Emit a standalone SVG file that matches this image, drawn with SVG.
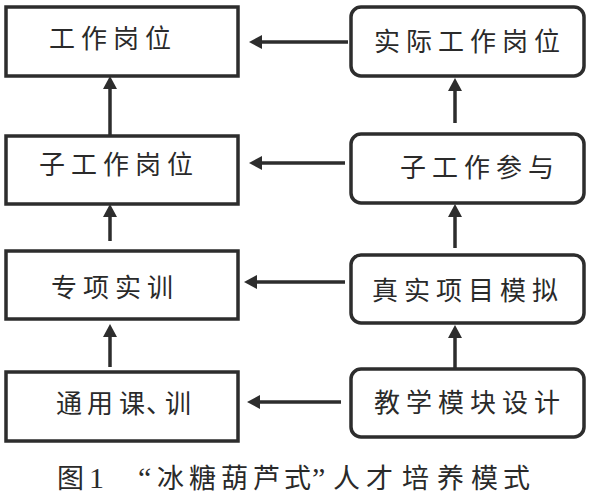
<svg xmlns="http://www.w3.org/2000/svg" width="593" height="498" viewBox="0 0 593 498">
<defs>
<marker id="ah" markerUnits="userSpaceOnUse" markerWidth="14" markerHeight="14" refX="6" refY="7" orient="auto">
<path d="M0,0 L13,7 L0,14 z" fill="#2d2d2d"/>
</marker>
<style>
.box{fill:#fff;stroke:#2d2d2d;stroke-width:3.5}
.t{font-family:"Noto Sans CJK SC","Noto Sans CJK JP",sans-serif;font-size:26px;fill:#2a2a2a;letter-spacing:6px}
.c{stroke:#2d2d2d;stroke-width:3.5;fill:none;marker-end:url(#ah)}
.cap{font-family:"Noto Sans CJK SC",sans-serif;font-size:27px;fill:#2a2a2a}
.q{font-family:"Liberation Serif",serif}
</style>
</defs>
<rect width="593" height="498" fill="#fff"/>
<g id="n1"><rect class="box" x="6" y="7" width="232" height="69"/><text class="t" x="49" y="48">工作岗位</text></g>
<g id="n2"><rect class="box" x="6" y="136" width="232" height="68"/><text class="t" x="39" y="174">子工作岗位</text></g>
<g id="n3"><rect class="box" x="6" y="251" width="232" height="68"/><text class="t" x="51" y="297">专项实训</text></g>
<g id="n4"><rect class="box" x="6" y="372" width="232" height="69"/><text class="t" x="56 87 119 146 165" y="413">通用课、训</text></g>
<g id="r1"><rect class="box" x="351" y="7" width="233" height="69" rx="10"/><text class="t" x="374" y="51">实际工作岗位</text></g>
<g id="r2"><rect class="box" x="351" y="134" width="233" height="69" rx="10"/><text class="t" x="400" y="177">子工作参与</text></g>
<g id="r3"><rect class="box" x="351" y="255" width="233" height="68" rx="10"/><text class="t" x="372" y="300">真实项目模拟</text></g>
<g id="r4"><rect class="box" x="351" y="369" width="233" height="68" rx="10"/><text class="t" x="374" y="412">教学模块设计</text></g>
<g id="connectors">
<line class="c" x1="348" y1="42" x2="256" y2="42"/>
<line class="c" x1="345" y1="163" x2="256" y2="163"/>
<line class="c" x1="345" y1="282" x2="251" y2="282"/>
<line class="c" x1="341" y1="402" x2="254" y2="402"/>
<line class="c" x1="110" y1="135" x2="110" y2="83"/>
<line class="c" x1="110" y1="241" x2="110" y2="211"/>
<line class="c" x1="110" y1="367" x2="110" y2="331"/>
<line class="c" x1="455" y1="123" x2="455" y2="85"/>
<line class="c" x1="455" y1="248" x2="455" y2="211"/>
<line class="c" x1="455" y1="368" x2="455" y2="332"/>
</g>
<text class="cap" y="488"><tspan x="57">图</tspan><tspan class="q" x="89" font-size="30">1</tspan><tspan class="q" x="138" font-size="30">“</tspan><tspan x="157 189 221 253 284">冰糖葫芦式</tspan><tspan class="q" x="312" font-size="30">”</tspan><tspan x="333 366 402 437 471 503">人才培养模式</tspan></text>
</svg>
